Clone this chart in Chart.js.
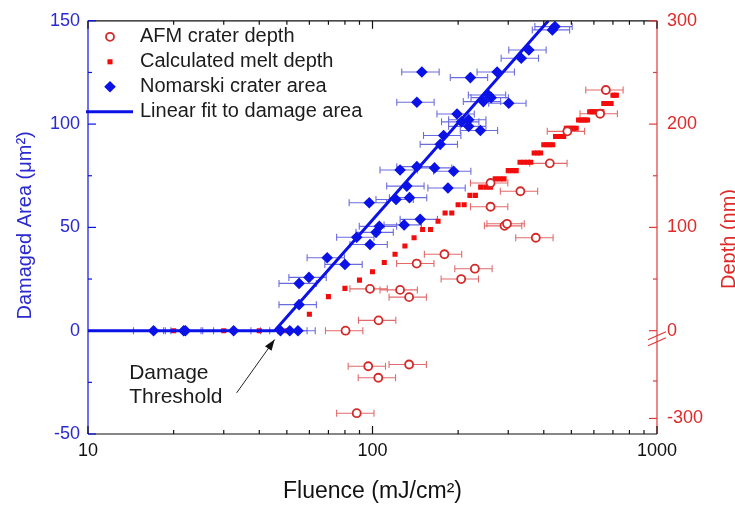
<!DOCTYPE html>
<html>
<head>
<meta charset="utf-8">
<script src="https://cdn.jsdelivr.net/npm/chart.js@4.4.1/dist/chart.umd.min.js"></script>
<style>
  html, body { margin: 0; padding: 0; background: #fff; }
  #box { width: 735px; height: 506px; }
</style>
</head>
<body>
<div id="box"><canvas id="chart" width="735" height="506"></canvas></div>
<script>
// Nomarski crater area (um^2) vs fluence (mJ/cm^2)
const areaFluence = [17.0, 21.7, 22.0, 32.5, 47.5, 51.2, 54.7, 55.2, 55.2, 59.8, 69.3, 80.0, 88.0, 98.0, 102.9, 105.7,
                     97.4, 121.0, 134.9, 129.2, 147.1, 125.0, 143.2, 165.2, 192.8, 132.0, 184.2, 173.0, 177.8, 198.2,
                     205.7, 217.8, 217.8, 239.4, 143.2, 245.3, 261.2, 255.5, 301.3, 149.1, 220.8, 274.2, 333.3, 354.5,
                     428.7, 437.8];
const areaValues  = [0, 0, 0, 0, 0, 0, 0, 12.6, 22.9, 25.8, 35.3, 32.1, 45.2, 41.7, 47.6, 50.5,
                     61.9, 63.5, 64.4, 51.2, 53.9, 77.8, 79.4, 78.8, 77.2, 70.0, 69.1, 90.2, 94.5, 104.9,
                     101.1, 102.1, 98.9, 96.9, 110.6, 110.9, 112.8, 114.1, 110.1, 125.2, 122.5, 125.2, 131.9, 135.9,
                     145.6, 147.2];

// AFM crater depth (nm)
const afmFluence = [661, 631, 484, 420, 375, 331, 260, 260, 291, 297, 229, 205, 179, 143, 134.5, 125, 98, 105, 80.4,
                    96.6, 134.5, 104.8, 88];
const afmDepth   = [233, 210, 193, 162, 90, 135, 143, 120, 101.5, 103.5, 60, 50, 74, 65, 32.5, 39.5, 40.5, 10, 0,
                    -91, -84, -137, -279];

// calculated melt depth (nm)
const meltFluence = [20, 30, 40, 50, 60, 70, 80, 90, 100, 110, 120, 130, 140, 150, 160, 170, 180, 190, 200, 210,
                     220, 230, 240, 250, 260, 270, 280, 290, 300, 310, 320, 330, 340, 350, 360, 370, 380, 390, 400,
                     410, 420, 430, 440, 450, 460, 470, 480, 490, 500, 510, 520, 530, 540, 550, 560, 570, 580, 590,
                     600, 610, 620, 630, 640, 650, 660, 670, 680, 690, 700, 710, 720];
const meltDepth   = [0, 0, 0, 0, 16, 33, 41, 49, 57, 66, 74, 82, 90, 98, 98, 106, 114, 114, 122, 122,
                     131, 131, 139, 139, 139, 147, 147, 147, 155, 155, 155, 163, 163, 163, 163, 172, 172, 172, 180,
                     180, 180, 180, 188, 188, 188, 188, 196, 196, 196, 196, 196, 204, 204, 204, 204, 204, 212, 212,
                     212, 212, 212, 212, 212, 220, 220, 220, 220, 220, 228, 228, 228];

// linear fit to damage area
const fitFluence = [10, 45.3, 415];
const fitArea    = [0, 0, 150];
const fluenceErr = 0.15;   // +-15 % on measured fluence

const xTicks     = [10, 100, 1000];
const xMinor     = [20, 30, 40, 50, 60, 70, 80, 90, 200, 300, 400, 500, 600, 700, 800, 900];
const areaTicks  = [-50, 0, 50, 100, 150];
const areaMinor  = [-25, 25, 75, 125];
const depthTicks = [-300, 0, 100, 200, 300];
const depthMinor = [-150, 50, 150, 250];

// right axis is broken below 0: negative depths are compressed
const BREAK_AT = -12.4, LOWER = 0.2418;
const depthAxis = d => d >= 0 ? d : BREAK_AT + d * LOWER;

const FONT = '"Liberation Sans", Arial, Helvetica, sans-serif';
const blue = '#0b12e6', blueText = '#2a2ad0', blueErr = '#6b6be0';
const red = '#f20d0d', ringRed = '#d42a2a', redText = '#e02a2a', redErr = '#e26a6a';

Chart.defaults.font.family = FONT;

function seg(ctx, x1, y1, x2, y2, color) {
  ctx.strokeStyle = color;
  ctx.beginPath(); ctx.moveTo(x1, y1); ctx.lineTo(x2, y2); ctx.stroke();
}

const errorBars = {
  id: 'errorBars',
  beforeDatasetsDraw(chart) {
    const { ctx, scales: { x } } = chart;
    chart.data.datasets.forEach((ds, i) => {
      if (!ds.errColor) return;
      const meta = chart.getDatasetMeta(i);
      ctx.save();
      ctx.lineWidth = 1.1;
      ds.data.forEach((p, j) => {
        const y0 = meta.data[j].y;
        const x1 = x.getPixelForValue(p.x * (1 - fluenceErr));
        const x2 = x.getPixelForValue(p.x * (1 + fluenceErr));
        seg(ctx, x1, y0, x2, y0, ds.errColor);
        seg(ctx, x1, y0 - 3.5, x1, y0 + 3.5, ds.errColor);
        seg(ctx, x2, y0 - 3.5, x2, y0 + 3.5, ds.errColor);
      });
      ctx.restore();
    });
  }
};

const decor = {
  id: 'decor',
  afterDraw(chart) {
    const { ctx, chartArea: a, scales: { x, y, yR } } = chart;
    ctx.save();
    ctx.lineWidth = 1.2;

    // frame
    seg(ctx, a.left, a.top, a.right, a.top, '#111');
    seg(ctx, a.left, a.bottom, a.right, a.bottom, '#111');
    seg(ctx, a.left, a.top, a.left, a.bottom, blue);
    seg(ctx, a.right, a.top, a.right, a.bottom, '#e03a3a');

    // inward tick marks
    xTicks.concat(xMinor).forEach(v => {
      const px = x.getPixelForValue(v), len = xTicks.includes(v) ? 8 : 4;
      seg(ctx, px, a.bottom, px, a.bottom - len, '#111');
      seg(ctx, px, a.top, px, a.top + len, '#111');
    });
    areaTicks.concat(areaMinor).forEach(v => {
      const py = y.getPixelForValue(v), len = areaTicks.includes(v) ? 8 : 4;
      seg(ctx, a.left, py, a.left + len, py, blue);
    });
    depthTicks.concat(depthMinor).forEach(d => {
      const py = yR.getPixelForValue(depthAxis(d)), len = depthTicks.includes(d) ? 8 : 4;
      seg(ctx, a.right, py, a.right - len, py, '#e03a3a');
    });

    // axis break marks
    const y0 = yR.getPixelForValue(0);
    seg(ctx, a.right - 9, y0 + 9, a.right + 9, y0 + 1, '#e03a3a');
    seg(ctx, a.right - 9, y0 + 15, a.right + 9, y0 + 7, '#e03a3a');

    // legend
    const lx = a.left + 22, tx = a.left + 52;
    const rows = ['AFM crater depth', 'Calculated melt depth', 'Nomarski crater area', 'Linear fit to damage area'];
    const ry = i => a.top + 16 + i * 25;
    ctx.fillStyle = '#fff'; ctx.strokeStyle = ringRed; ctx.lineWidth = 1.8;
    Chart.helpers.drawPoint(ctx, { pointStyle: 'circle', radius: 4, borderWidth: 1.8 }, lx, ry(0));
    ctx.fillStyle = red;
    Chart.helpers.drawPoint(ctx, { pointStyle: 'rect', radius: 3.6, borderWidth: 0 }, lx, ry(1));
    ctx.fillStyle = blue;
    Chart.helpers.drawPoint(ctx, { pointStyle: 'rectRot', radius: 5.8, borderWidth: 0 }, lx, ry(2));
    ctx.lineWidth = 3;
    seg(ctx, a.left - 2, ry(3), a.left + 45, ry(3), blue);
    ctx.fillStyle = '#1c1c1c';
    ctx.font = '20px ' + FONT;
    ctx.textAlign = 'left'; ctx.textBaseline = 'middle';
    rows.forEach((t, i) => ctx.fillText(t, tx, ry(i)));

    // threshold annotation
    ctx.font = '21px ' + FONT;
    ctx.fillText('Damage', x.getPixelForValue(13.95), y.getPixelForValue(-20.5));
    ctx.fillText('Threshold', x.getPixelForValue(13.95), y.getPixelForValue(-32));
    const ax1 = x.getPixelForValue(33.3), ay1 = y.getPixelForValue(-30.1);
    const ax2 = x.getPixelForValue(45.3), ay2 = y.getPixelForValue(-4.3);
    ctx.lineWidth = 1;
    seg(ctx, ax1, ay1, ax2, ay2, '#222');
    const ang = Math.atan2(ay2 - ay1, ax2 - ax1);
    ctx.fillStyle = '#111';
    ctx.beginPath();
    ctx.moveTo(ax2, ay2);
    ctx.lineTo(ax2 - 11 * Math.cos(ang) + 4 * Math.sin(ang), ay2 - 11 * Math.sin(ang) - 4 * Math.cos(ang));
    ctx.lineTo(ax2 - 11 * Math.cos(ang) - 4 * Math.sin(ang), ay2 - 11 * Math.sin(ang) + 4 * Math.cos(ang));
    ctx.closePath(); ctx.fill();

    // axis titles
    ctx.textAlign = 'center';
    ctx.fillStyle = '#111';
    ctx.font = '23px ' + FONT;
    ctx.fillText('Fluence (mJ/cm²)', (a.left + a.right) / 2, 492);
    ctx.font = '20px ' + FONT;
    ctx.save();
    ctx.translate(25, (a.top + a.bottom) / 2 - 2);
    ctx.rotate(-Math.PI / 2);
    ctx.fillStyle = blueText;
    ctx.fillText('Damaged Area (μm²)', 0, 0);
    ctx.restore();
    ctx.save();
    ctx.translate(729, 239);
    ctx.rotate(-Math.PI / 2);
    ctx.fillStyle = redText;
    ctx.fillText('Depth (nm)', 0, 0);
    ctx.restore();

    ctx.restore();
  }
};

new Chart(document.getElementById('chart'), {
  type: 'scatter',
  data: {
    datasets: [
      { type: 'line', label: 'Linear fit to damage area', yAxisID: 'y',
        data: fitFluence.map((f, i) => ({ x: f, y: fitArea[i] })),
        borderColor: blue, borderWidth: 3, pointRadius: 0, fill: false },
      { label: 'Nomarski crater area', yAxisID: 'y', errColor: blueErr,
        data: areaFluence.map((f, i) => ({ x: f, y: areaValues[i] })),
        pointStyle: 'rectRot', pointRadius: 5.8, backgroundColor: blue, borderWidth: 0 },
      { label: 'AFM crater depth', yAxisID: 'yR', errColor: redErr,
        data: afmFluence.map((f, i) => ({ x: f, y: depthAxis(afmDepth[i]) })),
        pointStyle: 'circle', pointRadius: 4, backgroundColor: '#fff', borderColor: ringRed, borderWidth: 1.8 },
      { label: 'Calculated melt depth', yAxisID: 'yR',
        data: meltFluence.map((f, i) => ({ x: f, y: depthAxis(meltDepth[i]) })),
        pointStyle: 'rect', pointRadius: 3.6, backgroundColor: red, borderWidth: 0 }
    ]
  },
  options: {
    responsive: false,
    animation: false,
    devicePixelRatio: 1,
    layout: { padding: { top: 15, left: 0, right: 0, bottom: 0 } },
    plugins: { legend: { display: false }, tooltip: { enabled: false } },
    scales: {
      x: {
        type: 'logarithmic', min: 10, max: 1000,
        grid: { display: false, drawTicks: false }, border: { display: false },
        afterBuildTicks: s => { s.ticks = xTicks.map(v => ({ value: v })); },
        afterFit: s => { s.height = 72; },
        ticks: { autoSkip: false, maxRotation: 0, padding: 6, color: '#111', font: { size: 18 },
                 callback: v => String(v) }
      },
      y: {
        position: 'left', min: -50, max: 150,
        grid: { display: false, drawTicks: false }, border: { display: false },
        afterBuildTicks: s => { s.ticks = areaTicks.map(v => ({ value: v })); },
        afterFit: s => { s.width = 88; },
        ticks: { padding: 8, color: blueText, font: { size: 18 } }
      },
      yR: {
        position: 'right', min: -100, max: 300,
        grid: { display: false, drawTicks: false }, border: { display: false },
        afterBuildTicks: s => { s.ticks = depthTicks.map(d => ({ value: depthAxis(d) })); },
        afterFit: s => { s.width = 78; },
        ticks: { padding: 10, color: redText, font: { size: 18 },
                 callback: (v, i) => String(depthTicks[i]) }
      }
    }
  },
  plugins: [errorBars, decor]
});
</script>
</body>
</html>
